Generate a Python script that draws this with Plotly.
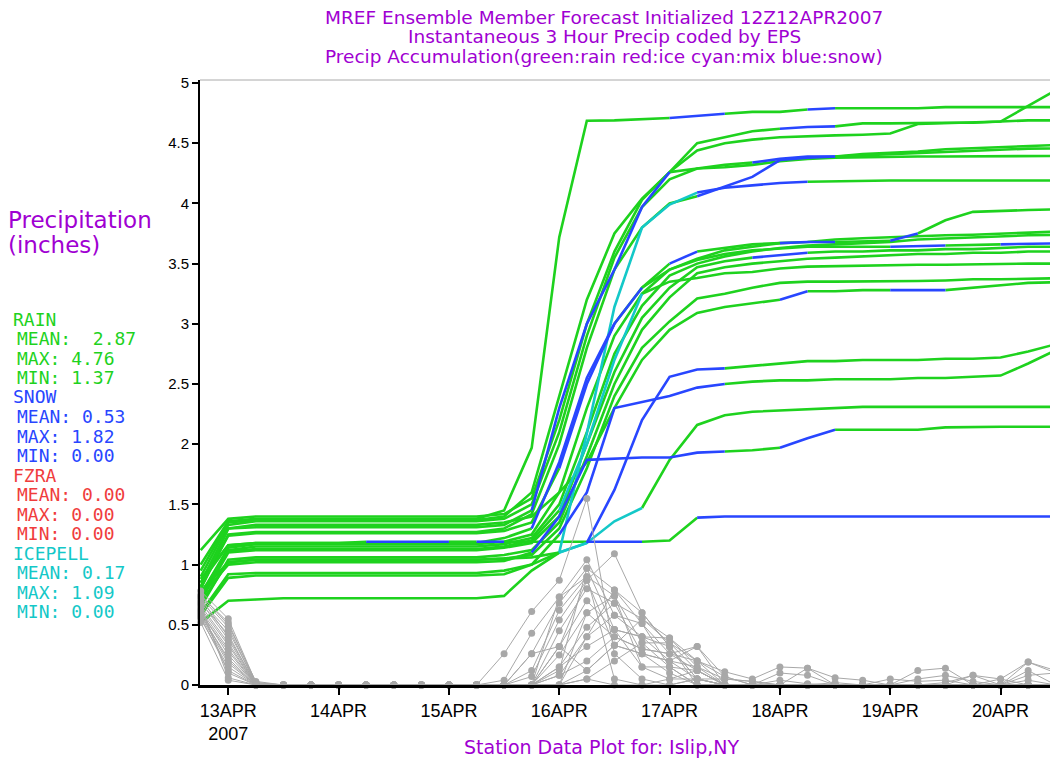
import plotly.graph_objects as go
import pandas as pd

# ---------------- time axis (6-hourly, starting 18Z 12APR2007) ----------------
times = pd.date_range("2007-04-12 18:00", periods=32, freq="6h")
time_str = [t.strftime("%Y-%m-%d %H:%M") for t in times]

# ---------------- accumulated precipitation per ensemble member (inches) ----------------
acc_A = [1.00, 1.36, 1.38, 1.38, 1.38, 1.38, 1.38, 1.38, 1.38, 1.38, 1.38,
         1.45, 1.97, 3.72, 4.687, 4.69, 4.70, 4.71, 4.73, 4.745, 4.76, 4.76, 4.78, 4.79, 4.79, 4.79, 4.79, 4.80, 4.80, 4.80, 4.80, 4.80]
acc_B = [1.12, 1.38, 1.40, 1.40, 1.40, 1.40, 1.40, 1.40, 1.40, 1.40, 1.40,
         1.42, 1.55, 2.20, 3.00, 3.60, 4.03, 4.26, 4.44, 4.50, 4.53, 4.55, 4.56, 4.565, 4.57, 4.58, 4.66, 4.665, 4.67, 4.68, 4.81, 4.94]
acc_C = [0.95, 1.35, 1.37, 1.37, 1.37, 1.37, 1.37, 1.37, 1.37, 1.37, 1.37,
         1.40, 1.60, 2.40, 3.20, 3.75, 4.04, 4.26, 4.50, 4.55, 4.60, 4.62, 4.635, 4.64, 4.665, 4.665, 4.67, 4.67, 4.67, 4.68, 4.69, 4.69]
acc_D = [0.90, 1.33, 1.36, 1.36, 1.36, 1.36, 1.36, 1.36, 1.36, 1.36, 1.36,
         1.38, 1.50, 2.10, 2.90, 3.55, 3.97, 4.20, 4.29, 4.32, 4.34, 4.37, 4.39, 4.39, 4.41, 4.42, 4.43, 4.45, 4.46, 4.47, 4.48, 4.485]
acc_E = [0.85, 1.30, 1.31, 1.31, 1.31, 1.31, 1.31, 1.31, 1.31, 1.31, 1.31,
         1.33, 1.45, 2.30, 3.00, 3.45, 3.80, 4.00, 4.06, 4.14, 4.22, 4.36, 4.38, 4.39, 4.40, 4.41, 4.42, 4.43, 4.44, 4.45, 4.455, 4.457]
acc_F = [0.80, 1.25, 1.27, 1.27, 1.27, 1.27, 1.27, 1.27, 1.27, 1.27, 1.27,
         1.30, 1.42, 2.00, 2.80, 3.45, 3.97, 4.26, 4.29, 4.30, 4.32, 4.35, 4.37, 4.38, 4.385, 4.39, 4.39, 4.39, 4.39, 4.394, 4.394, 4.394]
acc_G = [0.78, 1.02, 1.04, 1.04, 1.04, 1.04, 1.04, 1.04, 1.04, 1.04, 1.04,
         1.05, 1.06, 1.10, 2.09, 3.14, 3.80, 3.99, 4.09, 4.13, 4.15, 4.17, 4.18, 4.185, 4.19, 4.19, 4.19, 4.19, 4.19, 4.19, 4.19, 4.19]
acc_H = [0.82, 1.24, 1.26, 1.26, 1.26, 1.26, 1.26, 1.26, 1.26, 1.26, 1.26,
         1.28, 1.35, 1.80, 2.50, 3.00, 3.30, 3.50, 3.60, 3.63, 3.66, 3.67, 3.68, 3.68, 3.685, 3.69, 3.75, 3.86, 3.93, 3.94, 3.945, 3.95]
acc_I = [0.75, 1.14, 1.17, 1.17, 1.17, 1.17, 1.17, 1.17, 1.17, 1.17, 1.17,
         1.19, 1.25, 1.60, 2.30, 2.90, 3.25, 3.45, 3.54, 3.61, 3.64, 3.67, 3.68, 3.70, 3.71, 3.72, 3.73, 3.735, 3.74, 3.75, 3.76, 3.765]
acc_J = [0.72, 1.12, 1.15, 1.15, 1.15, 1.15, 1.15, 1.15, 1.15, 1.15, 1.15,
         1.17, 1.22, 1.50, 2.10, 2.75, 3.15, 3.40, 3.50, 3.56, 3.60, 3.63, 3.65, 3.66, 3.67, 3.68, 3.70, 3.71, 3.72, 3.73, 3.735, 3.738]
acc_K = [0.88, 1.16, 1.18, 1.18, 1.18, 1.18, 1.18, 1.18, 1.18, 1.18, 1.18,
         1.22, 1.30, 1.85, 2.55, 3.00, 3.30, 3.45, 3.53, 3.58, 3.61, 3.625, 3.64, 3.64, 3.64, 3.64, 3.645, 3.65, 3.655, 3.66, 3.665, 3.668]
acc_L = [0.70, 1.10, 1.12, 1.12, 1.12, 1.12, 1.12, 1.12, 1.12, 1.12, 1.12,
         1.14, 1.18, 1.40, 2.00, 2.60, 3.05, 3.30, 3.47, 3.52, 3.55, 3.57, 3.59, 3.60, 3.60, 3.61, 3.61, 3.62, 3.62, 3.63, 3.64, 3.64]
acc_U = [0.65, 1.04, 1.06, 1.06, 1.06, 1.06, 1.06, 1.06, 1.06, 1.06, 1.06,
         1.08, 1.12, 1.35, 1.90, 2.50, 2.95, 3.22, 3.42, 3.47, 3.50, 3.52, 3.54, 3.55, 3.56, 3.57, 3.58, 3.58, 3.59, 3.59, 3.60, 3.60]
acc_M = [0.76, 1.11, 1.13, 1.13, 1.13, 1.13, 1.13, 1.13, 1.13, 1.13, 1.13,
         1.15, 1.20, 1.45, 2.00, 2.70, 3.25, 3.35, 3.38, 3.42, 3.43, 3.46, 3.475, 3.48, 3.48, 3.485, 3.49, 3.49, 3.495, 3.50, 3.50, 3.50]
acc_N = [0.68, 1.02, 1.04, 1.04, 1.04, 1.04, 1.04, 1.04, 1.04, 1.04, 1.04,
         1.05, 1.08, 1.30, 1.80, 2.40, 2.80, 3.02, 3.21, 3.25, 3.30, 3.34, 3.35, 3.35, 3.35, 3.355, 3.355, 3.36, 3.37, 3.37, 3.375, 3.378]
acc_O = [0.80, 1.30, 1.33, 1.33, 1.33, 1.33, 1.33, 1.33, 1.33, 1.33, 1.33,
         1.35, 1.40, 1.60, 1.85, 2.30, 2.70, 2.95, 3.09, 3.14, 3.17, 3.20, 3.27, 3.27, 3.28, 3.28, 3.28, 3.28, 3.30, 3.32, 3.34, 3.345]
acc_P = [0.60, 0.92, 0.93, 0.93, 0.93, 0.93, 0.93, 0.93, 0.93, 0.93, 0.93,
         0.95, 1.00, 1.10, 1.18, 1.62, 2.20, 2.56, 2.62, 2.63, 2.65, 2.67, 2.69, 2.69, 2.70, 2.70, 2.70, 2.71, 2.71, 2.72, 2.77, 2.83]
acc_Q = [0.58, 0.89, 0.91, 0.91, 0.91, 0.91, 0.91, 0.91, 0.91, 0.91, 0.91,
         0.92, 1.00, 1.25, 1.60, 2.30, 2.35, 2.40, 2.47, 2.50, 2.52, 2.53, 2.53, 2.54, 2.54, 2.54, 2.55, 2.55, 2.56, 2.57, 2.67, 2.78]
acc_R = [0.52, 0.70, 0.71, 0.72, 0.72, 0.72, 0.72, 0.72, 0.72, 0.72, 0.72,
         0.74, 0.95, 1.10, 1.18, 1.36, 1.47, 1.87, 2.16, 2.24, 2.27, 2.28, 2.29, 2.30, 2.31, 2.31, 2.31, 2.31, 2.31, 2.31, 2.31, 2.31]
acc_S = [0.74, 1.00, 1.02, 1.02, 1.02, 1.02, 1.02, 1.02, 1.02, 1.02, 1.02,
         1.03, 1.10, 1.40, 1.87, 1.88, 1.89, 1.89, 1.93, 1.94, 1.95, 1.97, 2.05, 2.12, 2.12, 2.12, 2.12, 2.14, 2.145, 2.145, 2.145, 2.145]
acc_T = [0.85, 1.16, 1.18, 1.18, 1.18, 1.18, 1.19, 1.19, 1.19, 1.19, 1.19,
         1.19, 1.19, 1.19, 1.19, 1.19, 1.19, 1.20, 1.39, 1.40, 1.40, 1.40, 1.40, 1.40, 1.40, 1.40, 1.40, 1.40, 1.40, 1.40, 1.40, 1.40]

# 6-hour intervals (index of the ending time step) coded snow / mix; all others rain
snow_A = [18, 19, 23]
snow_C = [22, 23]
snow_D = [21, 22, 23]
snow_E = [13, 14, 15, 19, 20, 21, 22, 23]
snow_F = [16, 17]
snow_G = [19, 20, 21, 22]
mix_G = [14, 15, 16, 17, 18]
snow_H = [14, 15, 18, 22, 23, 26]
snow_K = [13, 14, 15, 16, 26, 27, 30, 31]
snow_L = [21, 22]
mix_M = [14, 15, 16]
snow_O = [22, 26, 27]
mix_P = [14]
snow_P = [15, 16, 17, 18, 19]
snow_Q = [14, 15, 16, 17, 18, 19]
mix_R = [14, 15, 16]
snow_S = [13, 14, 15, 16, 17, 18, 19, 22, 23]
snow_T = [7, 8, 9, 11, 15, 16, 19, 20, 21, 22, 23, 24, 25, 26, 27, 28, 29, 30, 31]

# ---------------- instantaneous 3-hour precip per member (inches) ----------------
inst_A = [0.62, 0.30, 0, 0, 0, 0, 0, 0, 0, 0, 0, 0.26, 0.61, 0.87, 1.55, 0.26, 0.05, 0, 0.05, 0, 0, 0, 0, 0, 0, 0, 0, 0, 0, 0, 0, 0]
inst_B = [0.70, 0.45, 0.02, 0, 0, 0, 0, 0, 0, 0, 0, 0.04, 0.43, 0.73, 1.04, 0.58, 0.40, 0.20, 0.15, 0.05, 0.03, 0, 0, 0, 0, 0, 0, 0.02, 0.08, 0.05, 0.19, 0.12]
inst_C = [0.58, 0.22, 0, 0, 0, 0, 0, 0, 0, 0, 0, 0, 0.26, 0.68, 0.97, 0.79, 0.51, 0.26, 0.20, 0.07, 0, 0, 0, 0, 0, 0, 0, 0, 0, 0, 0.08, 0.10]
inst_D = [0.75, 0.50, 0.03, 0, 0, 0, 0, 0, 0, 0, 0, 0, 0.12, 0.62, 0.90, 0.74, 0.35, 0.15, 0.12, 0, 0, 0.04, 0.01, 0, 0, 0, 0, 0, 0, 0, 0.04, 0]
inst_E = [0.66, 0.35, 0, 0, 0, 0, 0, 0, 0, 0, 0, 0, 0.07, 0.54, 0.87, 1.09, 0.60, 0.32, 0.05, 0, 0, 0, 0, 0, 0, 0.05, 0.03, 0.04, 0, 0, 0, 0]
inst_F = [0.55, 0.15, 0, 0, 0, 0, 0, 0, 0, 0, 0, 0, 0, 0.45, 0.80, 0.68, 0.55, 0.35, 0.12, 0, 0, 0, 0, 0, 0, 0, 0.12, 0.14, 0, 0, 0.12, 0]
inst_G = [0.72, 0.40, 0.01, 0, 0, 0, 0, 0, 0, 0, 0, 0, 0, 0.32, 0.70, 0.46, 0.40, 0.39, 0.20, 0.11, 0.05, 0.15, 0.14, 0.06, 0.04, 0, 0, 0, 0, 0, 0, 0]
inst_H = [0.60, 0.28, 0, 0, 0, 0, 0, 0, 0, 0, 0, 0, 0, 0.25, 0.60, 0.40, 0.30, 0.26, 0.32, 0, 0, 0, 0, 0, 0, 0, 0.05, 0.08, 0.03, 0, 0, 0]
inst_I = [0.68, 0.42, 0, 0, 0, 0, 0, 0, 0, 0, 0, 0, 0, 0.15, 0.48, 0.68, 0.26, 0.20, 0.05, 0, 0, 0.10, 0.08, 0, 0, 0, 0, 0, 0, 0.05, 0, 0]
inst_J = [0.64, 0.33, 0, 0, 0, 0, 0, 0, 0, 0, 0, 0, 0, 0.08, 0.40, 0.58, 0.51, 0.15, 0, 0, 0, 0, 0, 0, 0, 0, 0, 0, 0, 0, 0, 0]
inst_K = [0.78, 0.55, 0.02, 0, 0, 0, 0, 0, 0, 0, 0, 0, 0, 0.32, 0.87, 0.33, 0.26, 0.10, 0, 0, 0, 0, 0, 0.02, 0, 0, 0, 0, 0.08, 0, 0, 0]
inst_L = [0.57, 0.18, 0, 0, 0, 0, 0, 0, 0, 0, 0, 0, 0, 0.15, 0.32, 0.46, 0.40, 0.32, 0, 0, 0, 0, 0, 0, 0, 0, 0, 0, 0, 0, 0, 0]
inst_U = [0.61, 0.25, 0, 0, 0, 0, 0, 0, 0, 0, 0, 0, 0, 0.08, 0.20, 0.40, 0.30, 0.26, 0.12, 0, 0, 0, 0, 0, 0, 0, 0, 0, 0, 0, 0, 0]
inst_M = [0.69, 0.38, 0, 0, 0, 0, 0, 0, 0, 0, 0, 0, 0, 0, 0.60, 0.74, 0.15, 0.15, 0, 0, 0, 0, 0, 0, 0, 0, 0, 0, 0, 0, 0, 0]
inst_N = [0.56, 0.12, 0, 0, 0, 0, 0, 0, 0, 0, 0, 0, 0, 0, 0.12, 0.33, 0.55, 0.39, 0.15, 0, 0, 0, 0, 0, 0, 0, 0, 0, 0, 0, 0, 0]
inst_O = [0.73, 0.48, 0, 0, 0, 0, 0, 0, 0, 0, 0, 0, 0, 0, 0.05, 0.20, 0.35, 0.35, 0.20, 0, 0, 0, 0, 0, 0, 0, 0, 0, 0, 0, 0, 0]
inst_P = [0.63, 0.10, 0, 0, 0, 0, 0, 0, 0, 0, 0, 0, 0, 0, 0.40, 0.79, 0.60, 0.32, 0.05, 0.05, 0.03, 0, 0, 0, 0, 0, 0, 0, 0, 0, 0, 0]
inst_Q = [0.67, 0.06, 0, 0, 0, 0, 0, 0, 0, 0, 0, 0, 0, 0.12, 0.97, 0.46, 0.15, 0.05, 0.05, 0, 0, 0, 0, 0, 0, 0, 0, 0, 0, 0, 0.19, 0.10]
inst_R = [0.52, 0.04, 0, 0, 0, 0, 0, 0, 0, 0, 0, 0, 0.26, 0.32, 0.12, 0.33, 0.26, 0.20, 0.32, 0.07, 0, 0, 0, 0, 0, 0, 0, 0, 0, 0, 0, 0]
inst_S = [0.74, 0.52, 0.01, 0, 0, 0, 0, 0, 0, 0, 0, 0, 0, 0.73, 0.90, 0.05, 0, 0, 0.05, 0, 0, 0, 0.14, 0, 0, 0, 0, 0, 0, 0, 0, 0]
inst_T = [0.59, 0.20, 0, 0, 0, 0, 0, 0, 0, 0, 0, 0, 0, 0, 0.05, 0, 0, 0.05, 0.12, 0, 0, 0, 0, 0, 0, 0, 0, 0, 0, 0, 0, 0]

# ---------------- text ----------------
title_lines = ["MREF Ensemble Member Forecast Initialized 12Z12APR2007",
               "Instantaneous 3 Hour Precip coded by EPS",
               "Precip Accumulation(green:rain red:ice cyan:mix blue:snow)"]
ylabel_lines = ["Precipitation", "(inches)"]
stats_names = ["RAIN", "SNOW", "FZRA", "ICEPELL"]
stats_mean = ["\u00a02.87", "0.53", "0.00", "0.17"]
stats_max = ["4.76", "1.82", "0.00", "1.09"]
stats_min = ["1.37", "0.00", "0.00", "0.00"]
xtick_dates = ["2007-04-13", "2007-04-14", "2007-04-15", "2007-04-16",
               "2007-04-17", "2007-04-18", "2007-04-19", "2007-04-20"]
xtick_text = ["13APR<br>2007", "14APR", "15APR", "16APR", "17APR", "18APR", "19APR", "20APR"]
ytick_vals = [0, 0.5, 1, 1.5, 2, 2.5, 3, 3.5, 4, 4.5, 5]
ytick_text = ["0", "0.5", "1", "1.5", "2", "2.5", "3", "3.5", "4", "4.5", "5"]
footer = "Station Data Plot for: Islip,NY"

# ---------------- assemble ----------------
acc = {"A": acc_A, "B": acc_B, "C": acc_C, "D": acc_D, "E": acc_E, "F": acc_F, "G": acc_G,
       "H": acc_H, "I": acc_I, "J": acc_J, "K": acc_K, "L": acc_L, "U": acc_U, "M": acc_M,
       "N": acc_N, "O": acc_O, "P": acc_P, "Q": acc_Q, "R": acc_R, "S": acc_S, "T": acc_T}
snow = {"A": snow_A, "C": snow_C, "D": snow_D, "E": snow_E, "F": snow_F, "G": snow_G,
        "H": snow_H, "K": snow_K, "L": snow_L, "O": snow_O, "P": snow_P, "Q": snow_Q,
        "S": snow_S, "T": snow_T}
mix = {"G": mix_G, "M": mix_M, "P": mix_P, "R": mix_R}
inst = {"A": inst_A, "B": inst_B, "C": inst_C, "D": inst_D, "E": inst_E, "F": inst_F, "G": inst_G,
        "H": inst_H, "I": inst_I, "J": inst_J, "K": inst_K, "L": inst_L, "U": inst_U, "M": inst_M,
        "N": inst_N, "O": inst_O, "P": inst_P, "Q": inst_Q, "R": inst_R, "S": inst_S, "T": inst_T}

for d in (acc, inst):
    for k_, v in d.items():
        assert len(v) == len(time_str), (k_, len(v))

GREEN = "#1ED21E"
BLUE = "#2846FF"
CYAN = "#14C8C8"
RED = "#F03C3C"
PURPLE = "#A000D2"
GRAY = "#A8A8A8"


def itype(name, k):
    if k in snow.get(name, []):
        return "S"
    if k in mix.get(name, []):
        return "I"
    return "R"


def segments(typ):
    xs, ys = [], []
    for name, vals in acc.items():
        prev_in = False
        for k in range(1, len(vals)):
            if itype(name, k) == typ:
                if not prev_in:
                    if xs:
                        xs.append(None)
                        ys.append(None)
                    xs.append(time_str[k - 1])
                    ys.append(vals[k - 1])
                xs.append(time_str[k])
                ys.append(vals[k])
                prev_in = True
            else:
                prev_in = False
    return xs, ys


fig = go.Figure()
for typ, col in (("R", GREEN), ("I", CYAN), ("S", BLUE)):
    xs, ys = segments(typ)
    fig.add_trace(go.Scatter(x=xs, y=ys, mode="lines", line=dict(color=col, width=2.6),
                             connectgaps=False, hoverinfo="skip", showlegend=False))

gx, gy = [], []
for name, vals in inst.items():
    if gx:
        gx.append(None)
        gy.append(None)
    gx.extend(time_str)
    gy.extend(vals)
fig.add_trace(go.Scatter(x=gx, y=gy, mode="lines+markers", connectgaps=False,
                         line=dict(color=GRAY, width=1),
                         marker=dict(color=GRAY, size=7, symbol="circle"),
                         cliponaxis=False, hoverinfo="skip", showlegend=False))

L, R_, T_, B_ = 200, 1050, 80, 685


def xp(px):
    return (px - L) / (R_ - L)


def yp(py):
    return (B_ - py) / (B_ - T_)


ann = []
FONT = "DejaVu Sans"
MONO = "DejaVu Sans Mono"
TICKF = "Liberation Sans"
for i, line in enumerate(title_lines):
    ann.append(dict(x=xp(604), y=yp(17 + 19.5 * i), text=line, showarrow=False,
                    xref="paper", yref="paper", xanchor="center", yanchor="middle",
                    font=dict(family=FONT, size=18.5, color=PURPLE)))
for i, line in enumerate(ylabel_lines):
    ann.append(dict(x=xp(6), y=yp(220 + 25 * i), text=line, showarrow=False,
                    xref="paper", yref="paper", xanchor="left", yanchor="middle",
                    font=dict(family=FONT, size=23, color=PURPLE)))
stat_cols = [GREEN, BLUE, RED, CYAN]
for i, nm in enumerate(stats_names):
    base = 319 + 78 * i
    rows = [(nm, 11), ("MEAN: " + stats_mean[i], 15), ("MAX: " + stats_max[i], 15),
            ("MIN: " + stats_min[i], 15)]
    for j, (txt, xx) in enumerate(rows):
        ann.append(dict(x=xp(xx), y=yp(base + 19.5 * j), text=txt, showarrow=False,
                        xref="paper", yref="paper", xanchor="left", yanchor="middle",
                        font=dict(family=MONO, size=18, color=stat_cols[i])))
ann.append(dict(x=xp(601), y=yp(747), text=footer, showarrow=False,
                xref="paper", yref="paper", xanchor="center", yanchor="middle",
                font=dict(family=FONT, size=19, color=PURPLE)))

fig.update_layout(
    width=1050, height=761,
    margin=dict(l=L, r=1050 - R_, t=T_, b=761 - B_, pad=0),
    paper_bgcolor="white", plot_bgcolor="white",
    annotations=ann,
    shapes=[dict(type="line", xref="paper", yref="paper", x0=0, x1=1, y0=1, y1=1,
                 line=dict(color="#AAAAAA", width=1))],
    xaxis=dict(type="date", range=["2007-04-12 17:51", "2007-04-20 10:45"],
               tickvals=xtick_dates, ticktext=xtick_text, ticks="outside", ticklen=7,
               tickwidth=1.5, tickcolor="black", showline=True, linecolor="black",
               linewidth=3, showgrid=False, zeroline=False,
               tickfont=dict(family=TICKF, size=18, color="black")),
    yaxis=dict(range=[0, 5.025], tickvals=ytick_vals, ticktext=ytick_text,
               ticks="outside", ticklen=6, tickwidth=1.5, tickcolor="black",
               showline=True, linecolor="black", linewidth=2, showgrid=False,
               zeroline=False, tickfont=dict(family=TICKF, size=15, color="black")),
)

fig.write_html("out.html", config={"displayModeBar": False},
               post_script="document.body.style.margin='0px';")
